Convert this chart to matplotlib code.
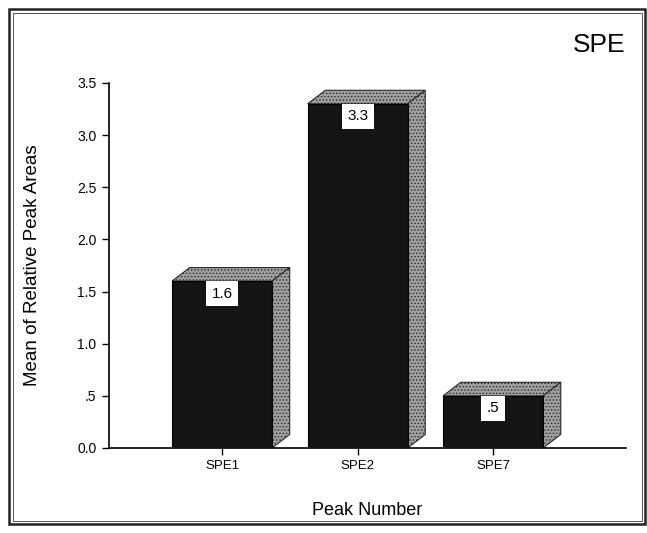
import numpy as np
import matplotlib
matplotlib.use("Agg")
import matplotlib.pyplot as plt
from matplotlib.patches import Polygon, Rectangle

plt.rcParams['font.family'] = ['Liberation Sans', 'DejaVu Sans']
plt.rcParams['hatch.linewidth'] = 0.6

# Données
peaks = ['SPE1', 'SPE2', 'SPE7']
means = [1.6, 3.3, 0.5]
value_labels = ['1.6', '3.3', '.5']
yticks = [0.0, 0.5, 1.0, 1.5, 2.0, 2.5, 3.0, 3.5]
ytick_labels = ['0.0', '.5', '1.0', '1.5', '2.0', '2.5', '3.0', '3.5']

fig = plt.figure(figsize=(6.47, 5.33), dpi=100)
ax = fig.add_axes([0.1685, 0.1595, 0.799, 0.6848])

width = 0.738
dx, dy = 0.13, 0.13  # profondeur de l'effet 3D

x = np.arange(len(peaks))
front = ax.bar(x, means, width=width, color='#141414', edgecolor='#000000', lw=0.8, zorder=3)

for xi, h, lab in zip(x, means, value_labels):
    l, r = xi - width / 2, xi + width / 2
    # face supérieure
    top = Polygon([(l, h), (r, h), (r + dx, h + dy), (l + dx, h + dy)], closed=True,
                  facecolor='#a0a0a0', edgecolor='#2a2a2a', hatch='.....', lw=0.8,
                  zorder=2, clip_on=False)
    # face latérale
    side = Polygon([(r, 0), (r + dx, dy), (r + dx, h + dy), (r, h)], closed=True,
                   facecolor='#a0a0a0', edgecolor='#2a2a2a', hatch='.....', lw=0.8,
                   zorder=2, clip_on=False)
    ax.add_patch(top)
    ax.add_patch(side)
    ax.text(xi, h - 0.12, lab, ha='center', va='center', fontsize=11, zorder=5,
            bbox=dict(boxstyle='square,pad=0.35', facecolor='white', edgecolor='none'))

ax.set_xlim(-0.834, 2.98)
ax.set_ylim(0, 3.5)
ax.set_xticks(x)
ax.set_xticklabels(peaks, fontsize=9.5)
ax.set_yticks(yticks)
ax.set_yticklabels(ytick_labels, fontsize=10)
ax.tick_params(axis='both', length=5, width=1, direction='out', pad=4)
ax.spines['top'].set_visible(False)
ax.spines['right'].set_visible(False)
ax.spines['left'].set_linewidth(1.2)
ax.spines['bottom'].set_linewidth(1.2)

ax.set_ylabel('Mean of Relative Peak Areas', fontsize=13.5, labelpad=26)
ax.set_xlabel('Peak Number', fontsize=13, labelpad=21)

fig.text(0.967, 0.915, 'SPE', ha='right', va='center', fontsize=19)

# Cadre double autour de la figure
W, H = 647, 533
outer = Rectangle((9 / W, 1 - 524 / H), (645 - 9) / W, (524 - 9) / H, transform=fig.transFigure,
                  fill=False, edgecolor='#222222', lw=1.8)
inner = Rectangle((13 / W, 1 - 521 / H), (642 - 13) / W, (521 - 13) / H, transform=fig.transFigure,
                  fill=False, edgecolor='#555555', lw=0.7)
fig.patches.extend([outer, inner])

fig.savefig('out.png', dpi=100)
